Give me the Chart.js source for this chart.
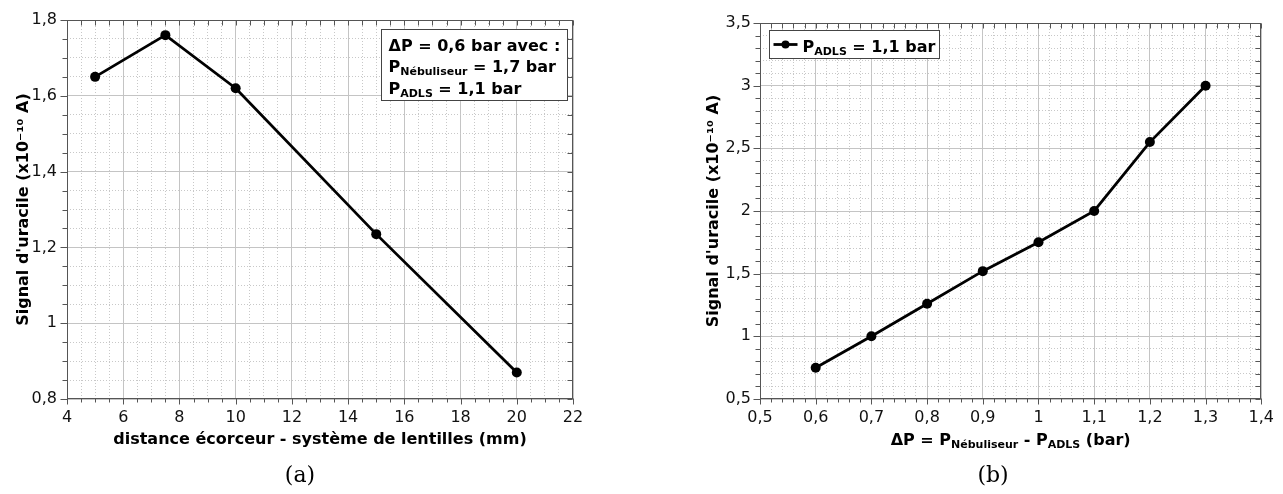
<!DOCTYPE html>
<html>
<head>
<meta charset="utf-8">
<script src="https://cdn.jsdelivr.net/npm/chart.js@4.4.1/dist/chart.umd.min.js"></script>
<style>
  html, body { margin: 0; padding: 0; background: #fff; }
  #wrap { position: relative; width: 1283px; height: 494px; overflow: hidden; }
  .pane { position: absolute; top: 0; height: 494px; }
  #paneA { left: 0; width: 593px; }
  #paneB { left: 693px; width: 590px; }
  .cap { position: absolute; top: 462px; width: 60px; margin-left: -30px; text-align: center;
         font-family: "DejaVu Serif", serif; font-size: 22px; color: #000; }
</style>
</head>
<body>
<div id="wrap">
  <div class="pane" id="paneA"><canvas id="chartA"></canvas></div>
  <div class="pane" id="paneB"><canvas id="chartB"></canvas></div>
  <div class="cap" style="left:300px">(a)</div>
  <div class="cap" style="left:993px">(b)</div>
</div>
<script>
// valeurs
const distance = [5, 7.5, 10, 15, 20];
const signalDistance = [1.65, 1.76, 1.62, 1.235, 0.87];
const deltaP = [0.6, 0.7, 0.8, 0.9, 1.0, 1.1, 1.2, 1.3];
const signalDeltaP = [0.75, 1.0, 1.26, 1.52, 1.75, 2.0, 2.55, 3.0];

// axes : [min, max, pas principal, pas secondaire]
const axeDistance = [4, 22, 2, 0.5];
const axeSignalA = [0.8, 1.8, 0.2, 0.05];
const axeDeltaP = [0.5, 1.4, 0.1, 0.02];
const axeSignalB = [0.5, 3.5, 0.5, 0.1];

const titreY = "Signal d'uracile (x10⁻¹⁰ A)";
const titreXA = "distance écorceur - système de lentilles (mm)";
// [texte, indice ?]
const titreXB = [["ΔP = P", 0], ["Nébuliseur", 1], [" - P", 0], ["ADLS", 1], [" (bar)", 0]];
const noteA = [
  [["ΔP = 0,6 bar avec :", 0]],
  [["P", 0], ["Nébuliseur", 1], [" = 1,7 bar", 0]],
  [["P", 0], ["ADLS", 1], [" = 1,1 bar", 0]],
];
const legendeB = [["P", 0], ["ADLS", 1], [" = 1,1 bar", 0]];

const FONT = "'DejaVu Sans', Verdana, sans-serif";
const AXE = "#555";
const GRILLE = "#c4c4c4";
const GRILLE_MIN = "#c8c8c8";
const TEXTE = "#111";

const estMultiple = (v, pas) => Math.abs(v / pas - Math.round(v / pas)) < 1e-6;
const virgule = (v) => String(Math.round(v * 100) / 100).replace(".", ",");

function largeurRuns(ctx, runs, taille, tailleIndice) {
  let w = 0;
  runs.forEach(([t, ind]) => {
    ctx.font = `bold ${ind ? tailleIndice : taille}px ${FONT}`;
    w += ctx.measureText(t).width;
  });
  return w;
}

function dessineRuns(ctx, runs, x, y, taille, tailleIndice) {
  ctx.textAlign = "left";
  ctx.textBaseline = "alphabetic";
  ctx.fillStyle = "#000";
  runs.forEach(([t, ind]) => {
    ctx.font = `bold ${ind ? tailleIndice : taille}px ${FONT}`;
    ctx.fillText(t, x, ind ? y + 3 : y);
    x += ctx.measureText(t).width;
  });
}

function echelles(ax, ay, o) {
  const police = { family: FONT, size: 16 };
  const titre = { family: FONT, size: 16, weight: "bold" };
  const mineur = (pas) => ({
    color: (c) => (estMultiple(c.tick.value, pas) ? "rgba(0,0,0,0)" : GRILLE_MIN),
    drawTicks: false,
    borderDash: [1, 2],
  });
  return {
    x: {
      type: "linear", position: "bottom", min: ax[0], max: ax[1],
      ticks: { stepSize: ax[2], callback: virgule, font: police, color: TEXTE,
               padding: 9, maxRotation: 0, autoSkip: false },
      grid: { color: GRILLE, drawTicks: false },
      border: { display: false },
      title: o.titreX
        ? { display: true, text: o.titreX, font: titre, color: "#000", padding: { top: 0, bottom: 0 } }
        : { display: false },
      afterFit: (s) => { s.height = 50; },
    },
    xMin: {
      type: "linear", position: "bottom", min: ax[0], max: ax[1],
      ticks: { stepSize: ax[3], display: false, autoSkip: false },
      grid: mineur(ax[2]),
      border: { display: false, dash: [1, 2] },
      afterFit: (s) => { s.height = 0; },
    },
    y: {
      type: "linear", position: "left", min: ay[0], max: ay[1],
      ticks: { stepSize: ay[2], callback: virgule, font: police, color: TEXTE, padding: o.padY, autoSkip: false },
      grid: { color: GRILLE, drawTicks: false },
      border: { display: false },
      title: { display: true, text: titreY, font: titre, color: "#000", padding: { top: o.titreYPad, bottom: 0 } },
      afterFit: (s) => { s.width = 67; },
    },
    yMin: {
      type: "linear", position: "left", min: ay[0], max: ay[1],
      ticks: { stepSize: ay[3], display: false, autoSkip: false },
      grid: mineur(ay[2]),
      border: { display: false, dash: [1, 2] },
      afterFit: (s) => { s.width = 0; },
    },
  };
}

// cadre + graduations sur les quatre côtés
const cadre = {
  id: "cadre",
  afterDraw(chart, args, opts) {
    const { ctx, chartArea: a } = chart;
    const { xMin, yMin } = chart.scales;
    const L = Math.round(a.left) + 0.5, R = Math.round(a.right) - 0.5;
    const T = Math.round(a.top) + 0.5, B = Math.round(a.bottom) - 0.5;
    ctx.save();
    ctx.strokeStyle = AXE;
    ctx.lineWidth = 1;
    ctx.beginPath();
    xMin.ticks.forEach((t) => {
      const px = Math.round(xMin.getPixelForValue(t.value)) + 0.5;
      const len = estMultiple(t.value, opts.pasX) ? 6 : 4;
      ctx.moveTo(px, B); ctx.lineTo(px, B + len);
      ctx.moveTo(px, T); ctx.lineTo(px, T + 5);
    });
    yMin.ticks.forEach((t) => {
      const py = Math.round(yMin.getPixelForValue(t.value)) + 0.5;
      const len = estMultiple(t.value, opts.pasY) ? 7 : 5;
      ctx.moveTo(L, py); ctx.lineTo(L - len, py);
      ctx.moveTo(R, py); ctx.lineTo(R - 5, py);
    });
    ctx.stroke();
    ctx.strokeRect(L, T, R - L, B - T);
    ctx.restore();
  },
};

const serie = (xs, ys) => ({
  data: xs.map((x, i) => ({ x, y: ys[i] })),
  borderColor: "#000",
  backgroundColor: "#000",
  borderWidth: 2.8,
  pointRadius: 5,
  pointBorderWidth: 0,
  pointBackgroundColor: "#000",
  tension: 0,
  clip: false,
});

// graphe (a)
const noteAPlugin = {
  id: "noteA",
  afterDatasetsDraw(chart) {
    const { ctx, chartArea: a } = chart;
    const w = 186, h = 71;
    const bx = Math.round(a.right) - 6 - w + 0.5, by = Math.round(a.top) + 9 + 0.5;
    ctx.save();
    ctx.fillStyle = "#fff";
    ctx.fillRect(bx, by, w, h);
    ctx.strokeStyle = "#444";
    ctx.lineWidth = 1;
    ctx.strokeRect(bx, by, w, h);
    noteA.forEach((ligne, i) => dessineRuns(ctx, ligne, bx + 7, by + 21 + i * 21.5, 16, 11));
    ctx.restore();
  },
};

new Chart(document.getElementById("chartA"), {
  type: "line",
  data: { datasets: [serie(distance, signalDistance)] },
  options: {
    responsive: true,
    maintainAspectRatio: false,
    animation: false,
    layout: { padding: { top: 20, right: 20, left: 0, bottom: 45 } },
    scales: echelles(axeDistance, axeSignalA, { titreX: titreXA, padY: 10, titreYPad: 14 }),
    plugins: {
      legend: { display: false },
      tooltip: { enabled: false },
      cadre: { pasX: axeDistance[2], pasY: axeSignalA[2] },
    },
  },
  plugins: [noteAPlugin, cadre],
});

// graphe (b)
const extrasB = {
  id: "extrasB",
  afterDatasetsDraw(chart) {
    const { ctx, chartArea: a } = chart;
    ctx.save();
    // titre de l'axe x avec indices
    const wt = largeurRuns(ctx, titreXB, 16, 11);
    dessineRuns(ctx, titreXB, (a.left + a.right) / 2 - wt / 2, a.bottom + 46, 16, 11);
    // légende
    const bx = Math.round(a.left) + 9 + 0.5, by = Math.round(a.top) + 7 + 0.5;
    const w = 170, h = 28;
    ctx.fillStyle = "#fff";
    ctx.fillRect(bx, by, w, h);
    ctx.strokeStyle = "#444";
    ctx.lineWidth = 1;
    ctx.strokeRect(bx, by, w, h);
    const ds = chart.data.datasets[0];
    ctx.strokeStyle = ds.borderColor;
    ctx.lineWidth = ds.borderWidth;
    ctx.beginPath();
    ctx.moveTo(bx + 4, by + 14);
    ctx.lineTo(bx + 28, by + 14);
    ctx.stroke();
    ctx.fillStyle = ds.pointBackgroundColor;
    ctx.beginPath();
    ctx.arc(bx + 16, by + 14, 4, 0, Math.PI * 2);
    ctx.fill();
    dessineRuns(ctx, legendeB, bx + 33, by + 21, 16, 11);
    ctx.restore();
  },
};

new Chart(document.getElementById("chartB"), {
  type: "line",
  data: { datasets: [serie(deltaP, signalDeltaP)] },
  options: {
    responsive: true,
    maintainAspectRatio: false,
    animation: false,
    layout: { padding: { top: 23, right: 21, left: 0, bottom: 45 } },
    scales: echelles(axeDeltaP, axeSignalB, { titreX: null, padY: 9, titreYPad: 11 }),
    plugins: {
      legend: { display: false },
      tooltip: { enabled: false },
      cadre: { pasX: axeDeltaP[2], pasY: axeSignalB[2] },
    },
  },
  plugins: [extrasB, cadre],
});
</script>
</body>
</html>
